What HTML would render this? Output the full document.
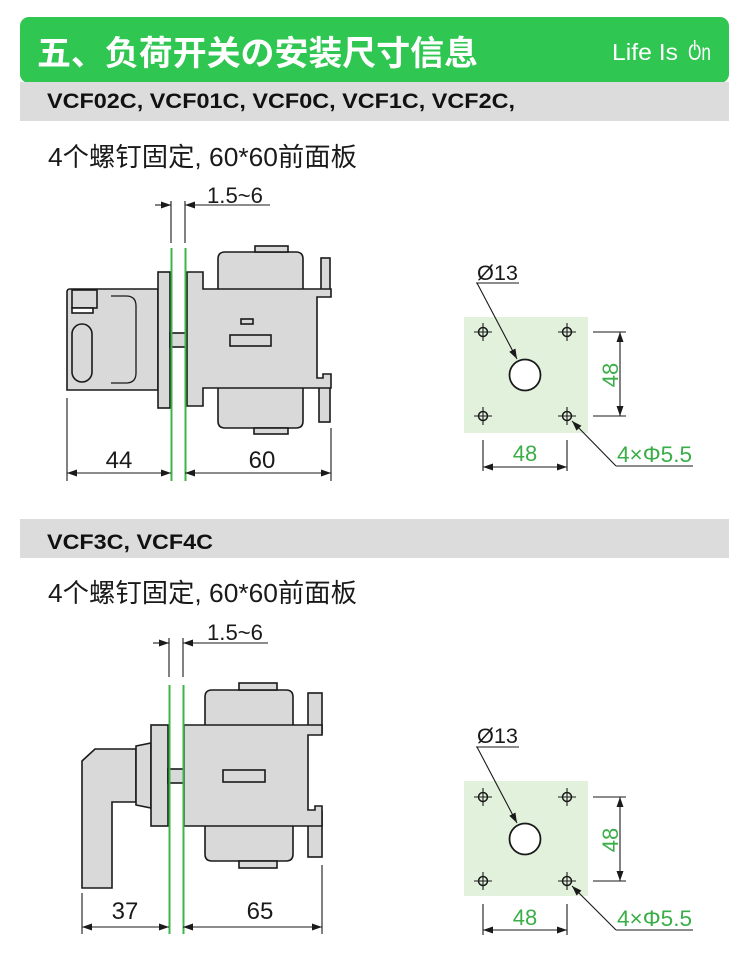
<!DOCTYPE html>
<html><head><meta charset="utf-8"><style>
html,body{margin:0;padding:0;background:#fff;}
svg{display:block;}
</style></head><body>
<svg width="750" height="963" viewBox="0 0 750 963" xmlns="http://www.w3.org/2000/svg">
<defs>
<marker id="ah" viewBox="0 0 10 7" refX="10" refY="3.5" markerUnits="userSpaceOnUse" markerWidth="10" markerHeight="7" orient="auto-start-reverse">
<path d="M0,0 L10,3.5 L0,7 z" fill="#1a1a1a"/>
</marker>
</defs>
<rect x="0" y="0" width="750" height="963" fill="#fff"/>

<!-- Header -->
<rect x="20" y="17" width="709" height="66" rx="9" fill="#2fc651"/>
<rect x="20" y="82" width="709" height="39" fill="#dcdcdc"/>
<text x="37" y="65" font-family="'Liberation Sans','Noto Sans CJK SC',sans-serif" font-size="34" font-weight="bold" fill="#fff" textLength="441" lengthAdjust="spacingAndGlyphs">五、负荷开关の安装尺寸信息</text>
<text font-family="'Liberation Sans',sans-serif" font-size="23" fill="#fff"><tspan x="612" y="60" textLength="66" lengthAdjust="spacingAndGlyphs">Life Is</tspan><tspan x="688" y="60" textLength="23" lengthAdjust="spacingAndGlyphs">On</tspan></text>
<rect x="693" y="41" width="3.5" height="4.5" fill="#2fc651"/>
<line x1="694.7" y1="40" x2="694.7" y2="50" stroke="#fff" stroke-width="1.5"/>
<text x="47" y="108" font-family="'Liberation Sans',sans-serif" font-size="21" font-weight="bold" fill="#111" textLength="468" lengthAdjust="spacingAndGlyphs">VCF02C, VCF01C, VCF0C, VCF1C, VCF2C,</text>
<text x="48" y="166" font-family="'Liberation Sans','Noto Sans CJK SC',sans-serif" font-size="26" fill="#1a1a1a" textLength="309" lengthAdjust="spacingAndGlyphs">4个螺钉固定, 60*60前面板</text>

<!-- Section 2 header -->
<rect x="20" y="519" width="709" height="39" fill="#dcdcdc"/>
<text x="47" y="549" font-family="'Liberation Sans',sans-serif" font-size="21" font-weight="bold" fill="#111" textLength="166" lengthAdjust="spacingAndGlyphs">VCF3C, VCF4C</text>
<text x="48" y="602" font-family="'Liberation Sans','Noto Sans CJK SC',sans-serif" font-size="26" fill="#1a1a1a" textLength="309" lengthAdjust="spacingAndGlyphs">4个螺钉固定, 60*60前面板</text>

<g stroke="#1a1a1a" stroke-width="1.6" fill="#d9d9d9" stroke-linejoin="miter">
<!-- ===== Diagram 1 ===== -->
<path d="M218,290 L218,259 Q218,252 225,252 L296,252 Q303,252 303,259 L303,290 Z"/>
<rect x="255" y="246" width="33" height="6"/>
<path d="M218,387 L218,421 Q218,428 225,428 L296,428 Q303,428 303,421 L303,387 Z"/>
<rect x="254" y="428" width="34" height="6"/>
<rect x="321" y="258" width="9" height="38"/>
<rect x="319" y="380" width="11" height="42"/>
<path d="M67,390 L67,292 Q67,289 70,289 L158,289 L158,390 Z"/>
<rect x="72" y="290" width="25" height="18"/>
<rect x="72" y="308" width="21" height="5" fill="#fff"/>
<rect x="72" y="324" width="20" height="58" rx="10"/>
<path d="M111,296 L126,296 Q136,296 136,306 L136,373 Q136,383 126,383 L111,383" fill="none" stroke-width="1.3"/>
<rect x="158" y="272" width="12" height="136"/>
<rect x="170" y="333" width="17" height="14"/>
<path d="M187,272 L203,272 L203,289 L331,289 L331,297 L317,297 L317,378 L323,378 L323,374 L331,374 L331,388 L203,388 L203,406 L187,406 Z"/>
<rect x="241" y="319" width="12" height="5"/>
<rect x="230" y="335" width="41" height="11"/>

<!-- ===== Diagram 2 ===== -->
<path d="M205,726 L205,697 Q205,690 212,690 L286,690 Q293,690 293,697 L293,726 Z"/>
<rect x="239" y="683" width="38" height="7"/>
<path d="M205,825 L205,854 Q205,861 212,861 L286,861 Q293,861 293,854 L293,825 Z"/>
<rect x="239" y="861" width="38" height="7"/>
<rect x="308" y="693" width="14" height="40"/>
<rect x="308" y="812" width="14" height="45"/>
<path d="M82,761 L95,749 L136,749 L136,802 L112,802 L112,888 L82,888 Z"/>
<path d="M136,746 L151,743 L151,808 L136,805 Z"/>
<rect x="151" y="725" width="17" height="101"/>
<rect x="168" y="769" width="16" height="14"/>
<path d="M184,725 L322,725 L322,735 L308,735 L308,810 L315,810 L315,806 L322,806 L322,826 L184,826 Z"/>
<rect x="223" y="770" width="42" height="12"/>
</g>

<!-- green panel lines -->
<g stroke="#3cb44a" stroke-width="2">
<line x1="171.5" y1="248" x2="171.5" y2="481"/>
<line x1="185.5" y1="248" x2="185.5" y2="481"/>
<line x1="169.5" y1="685" x2="169.5" y2="934"/>
<line x1="183.5" y1="685" x2="183.5" y2="934"/>
</g>

<!-- dimension lines -->
<g stroke="#1a1a1a" stroke-width="1.1" fill="none">
<line x1="171" y1="201" x2="171" y2="243"/>
<line x1="185" y1="201" x2="185" y2="243"/>
<line x1="155" y1="205" x2="171" y2="205" marker-end="url(#ah)"/>
<line x1="270" y1="205" x2="185" y2="205" marker-end="url(#ah)"/>
<line x1="67" y1="398" x2="67" y2="481"/>
<line x1="331" y1="428" x2="331" y2="481"/>
<line x1="67" y1="473" x2="171" y2="473" marker-start="url(#ah)" marker-end="url(#ah)"/>
<line x1="185" y1="473" x2="331" y2="473" marker-start="url(#ah)" marker-end="url(#ah)"/>
<line x1="169" y1="638" x2="169" y2="677"/>
<line x1="183" y1="638" x2="183" y2="677"/>
<line x1="153" y1="643" x2="169" y2="643" marker-end="url(#ah)"/>
<line x1="268" y1="643" x2="183" y2="643" marker-end="url(#ah)"/>
<line x1="82" y1="893" x2="82" y2="934"/>
<line x1="322" y1="865" x2="322" y2="934"/>
<line x1="82" y1="927" x2="169" y2="927" marker-start="url(#ah)" marker-end="url(#ah)"/>
<line x1="183" y1="927" x2="322" y2="927" marker-start="url(#ah)" marker-end="url(#ah)"/>
</g>

<g font-family="'Liberation Sans',sans-serif" fill="#1a1a1a">
<text x="207" y="203" font-size="22" textLength="56" lengthAdjust="spacingAndGlyphs">1.5~6</text>
<text x="119" y="468" font-size="24" text-anchor="middle">44</text>
<text x="262" y="468" font-size="24" text-anchor="middle">60</text>
<text x="207" y="640" font-size="22" textLength="56" lengthAdjust="spacingAndGlyphs">1.5~6</text>
<text x="125" y="919" font-size="24" text-anchor="middle">37</text>
<text x="260" y="919" font-size="24" text-anchor="middle">65</text>
</g>

<!-- ===== Plate 1 ===== -->
<rect x="464" y="317" width="124" height="116" fill="#e2f1dc"/>
<g stroke="#1a1a1a" stroke-width="1.5" fill="none">
<circle cx="483" cy="332" r="4.5"/><circle cx="567" cy="332" r="4.5"/>
<circle cx="483" cy="416" r="4.5"/><circle cx="567" cy="416" r="4.5"/>
<path d="M474,332 H492 M483,323 V341 M558,332 H576 M567,323 V341 M474,416 H492 M483,407 V425 M558,416 H576 M567,407 V425" stroke-width="1.1"/>
<circle cx="525" cy="375" r="15.5" fill="#fff" stroke-width="1.8"/>
</g>
<g stroke="#1a1a1a" stroke-width="1.1" fill="none">
<line x1="476" y1="283" x2="519" y2="283"/>
<line x1="477" y1="283" x2="517" y2="359" marker-end="url(#ah)"/>
<line x1="593" y1="332" x2="626" y2="332"/>
<line x1="593" y1="416" x2="626" y2="416"/>
<line x1="620" y1="332" x2="620" y2="416" marker-start="url(#ah)" marker-end="url(#ah)"/>
<line x1="483" y1="440" x2="483" y2="471"/>
<line x1="567" y1="440" x2="567" y2="471"/>
<line x1="483" y1="467" x2="567" y2="467" marker-start="url(#ah)" marker-end="url(#ah)"/>
<line x1="616" y1="466" x2="693" y2="466"/>
<line x1="616" y1="466" x2="572" y2="421" marker-end="url(#ah)"/>
</g>
<text x="477" y="280" font-family="'Liberation Sans',sans-serif" font-size="21" fill="#1a1a1a" textLength="41" lengthAdjust="spacingAndGlyphs">Ø13</text>
<text x="525" y="461" font-family="'Liberation Sans',sans-serif" font-size="22" fill="#3aae48" text-anchor="middle">48</text>
<text x="0" y="0" font-family="'Liberation Sans',sans-serif" font-size="22" fill="#3aae48" text-anchor="middle" transform="translate(618,375) rotate(-90)">48</text>
<text x="617" y="462" font-family="'Liberation Sans',sans-serif" font-size="22" fill="#3aae48" textLength="75" lengthAdjust="spacingAndGlyphs">4×Φ5.5</text>

<!-- ===== Plate 2 ===== -->
<rect x="464" y="781" width="124" height="115" fill="#e2f1dc"/>
<g stroke="#1a1a1a" stroke-width="1.5" fill="none">
<circle cx="483" cy="797" r="4.5"/><circle cx="567" cy="797" r="4.5"/>
<circle cx="483" cy="881" r="4.5"/><circle cx="567" cy="881" r="4.5"/>
<path d="M474,797 H492 M483,788 V806 M558,797 H576 M567,788 V806 M474,881 H492 M483,872 V890 M558,881 H576 M567,872 V890" stroke-width="1.1"/>
<circle cx="525" cy="839" r="15.5" fill="#fff" stroke-width="1.8"/>
</g>
<g stroke="#1a1a1a" stroke-width="1.1" fill="none">
<line x1="476" y1="747" x2="519" y2="747"/>
<line x1="477" y1="747" x2="517" y2="823" marker-end="url(#ah)"/>
<line x1="593" y1="797" x2="626" y2="797"/>
<line x1="593" y1="881" x2="626" y2="881"/>
<line x1="620" y1="797" x2="620" y2="881" marker-start="url(#ah)" marker-end="url(#ah)"/>
<line x1="483" y1="904" x2="483" y2="935"/>
<line x1="567" y1="904" x2="567" y2="935"/>
<line x1="483" y1="930" x2="567" y2="930" marker-start="url(#ah)" marker-end="url(#ah)"/>
<line x1="616" y1="930" x2="693" y2="930"/>
<line x1="616" y1="930" x2="572" y2="886" marker-end="url(#ah)"/>
</g>
<text x="477" y="743" font-family="'Liberation Sans',sans-serif" font-size="21" fill="#1a1a1a" textLength="41" lengthAdjust="spacingAndGlyphs">Ø13</text>
<text x="525" y="925" font-family="'Liberation Sans',sans-serif" font-size="22" fill="#3aae48" text-anchor="middle">48</text>
<text x="0" y="0" font-family="'Liberation Sans',sans-serif" font-size="22" fill="#3aae48" text-anchor="middle" transform="translate(618,840) rotate(-90)">48</text>
<text x="617" y="926" font-family="'Liberation Sans',sans-serif" font-size="22" fill="#3aae48" textLength="75" lengthAdjust="spacingAndGlyphs">4×Φ5.5</text>
</svg>
</body></html>
